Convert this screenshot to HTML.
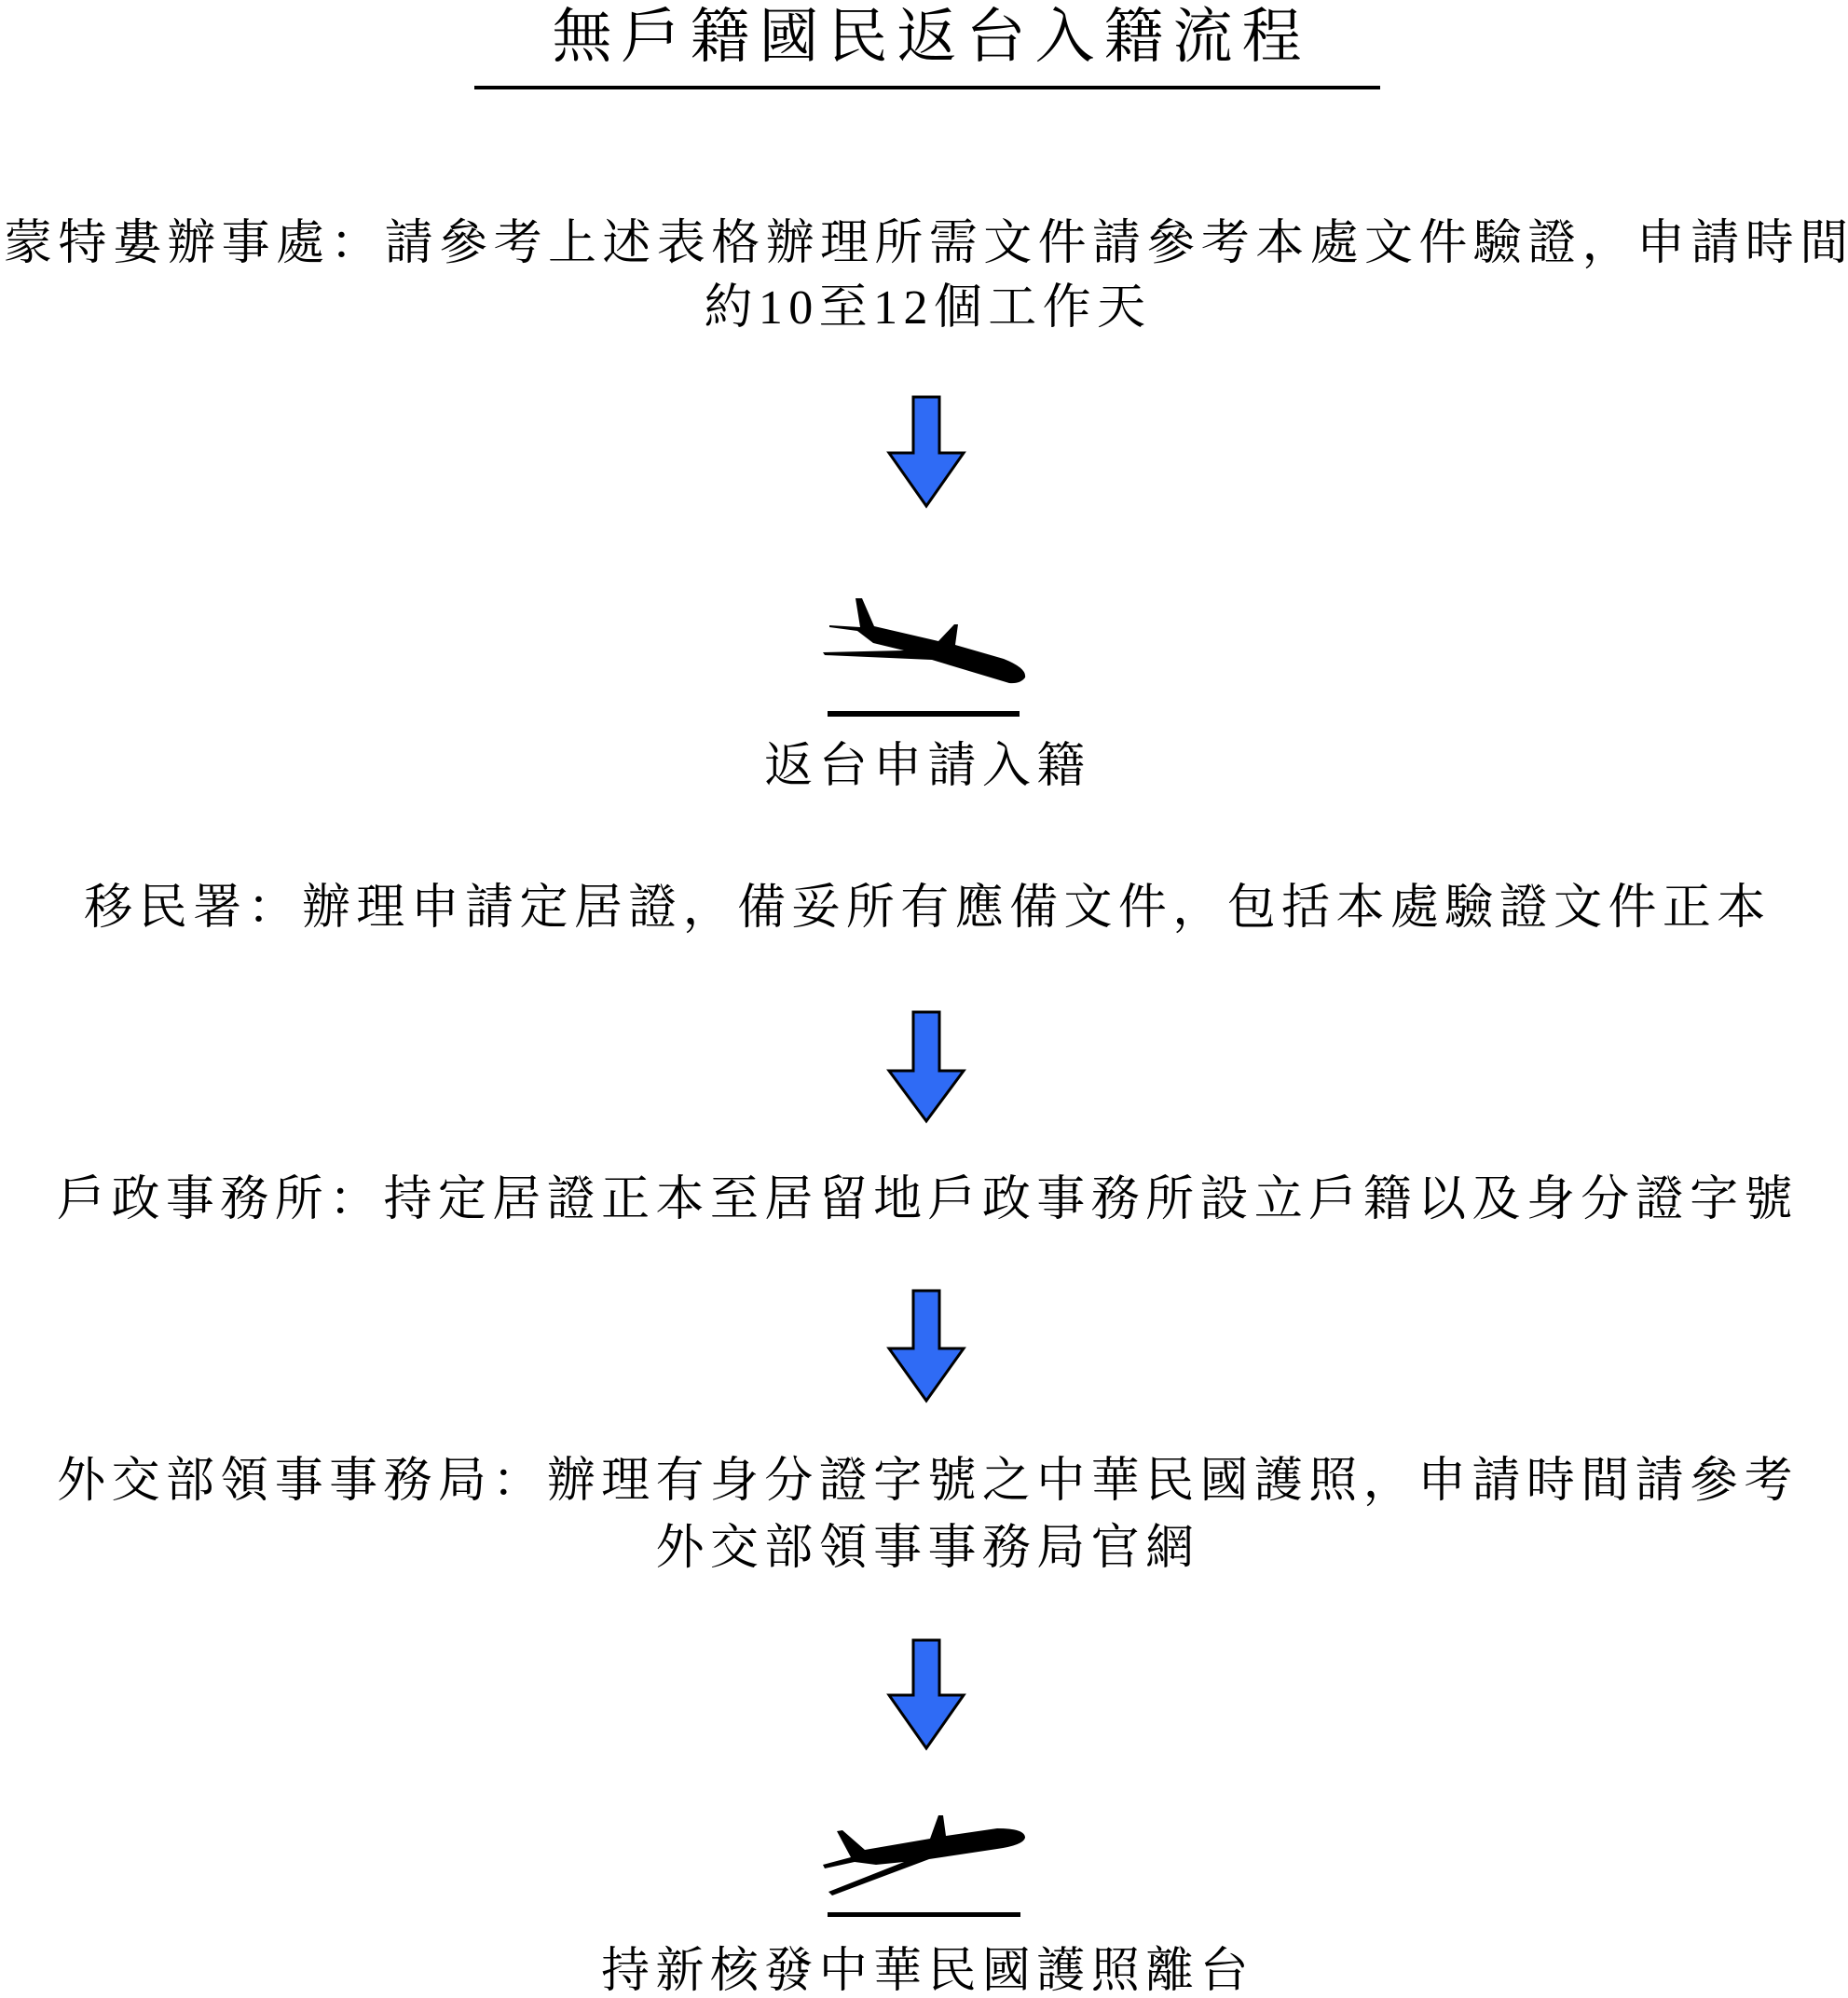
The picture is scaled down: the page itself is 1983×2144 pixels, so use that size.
<!DOCTYPE html>
<html><head><meta charset="utf-8">
<style>
html,body{margin:0;padding:0;background:#fff;}
body{width:1983px;height:2139px;position:relative;overflow:hidden;}
.t{position:absolute;left:4px;width:1983px;text-align:center;white-space:nowrap;line-height:1;color:#000;
font-family:"Liberation Serif","Noto Serif CJK SC","Noto Serif CJK TC",serif;font-size:52px;letter-spacing:6.4px;}
.title{font-size:64px;letter-spacing:10px;left:8px;}
svg{position:absolute;left:0;top:0;}
</style></head><body>
<div class="t title" style="top:8px">無戶籍國民返台入籍流程</div>
<div class="t" style="top:236px">蒙特婁辦事處：請參考上述表格辦理所需文件請參考本處文件驗證，申請時間</div>
<div class="t" style="top:305px">約10至12個工作天</div>
<div class="t" style="top:797px">返台申請入籍</div>
<div class="t" style="top:949px">移民署：辦理申請定居證，備妥所有應備文件，包括本處驗證文件正本</div>
<div class="t" style="top:1262px">戶政事務所：持定居證正本至居留地戶政事務所設立戶籍以及身分證字號</div>
<div class="t" style="top:1564px">外交部領事事務局：辦理有身分證字號之中華民國護照，申請時間請參考</div>
<div class="t" style="top:1636px">外交部領事事務局官網</div>
<div class="t" style="top:2090px">持新核發中華民國護照離台</div>
<svg width="1983" height="2139" viewBox="0 0 1983 2139">
<rect x="509" y="92" width="972" height="4" fill="#000"/>
<g fill="#2f6bf5" stroke="#000" stroke-width="3" stroke-linejoin="miter">
<polygon points="980,426 1008,426 1008,486 1034,486 994,543 954,486 980,486"/>
<polygon points="980,1086 1008,1086 1008,1149 1034,1149 994,1203 954,1149 980,1149"/>
<polygon points="980,1385 1008,1385 1008,1447 1034,1447 994,1503 954,1447 980,1447"/>
<polygon points="980,1760 1008,1760 1008,1819 1034,1819 994,1876 954,1819 980,1819"/>
</g>
<path fill="#000" d="M918,642 L925,642 L938,672 L1007,688 L1024,670 L1028,670 L1025,692 L1077,707 Q1102,717 1100,727 Q1095,734 1083,733 L1000,708 L885,703 L883,700 L970,698 L937,690 L920,677 L890,673 L890,671 L923,673 Z"/>
<rect x="888" y="763" width="206" height="6" fill="#000"/>
<path fill="#000" d="M898,1965 L904,1964 L928,1985 L998,1973 L1007,1948 L1012,1948 L1015,1970 L1070,1962 Q1100,1962 1100,1972 Q1098,1980 1070,1984 L997,1995 L893,2034 L889,2030 L970,1998 L940,2001 L917,1998 L885,2005 L883,2001 L913,1993 Z"/>
<rect x="888" y="2052" width="207" height="5" fill="#000"/>
</svg>
</body></html>
